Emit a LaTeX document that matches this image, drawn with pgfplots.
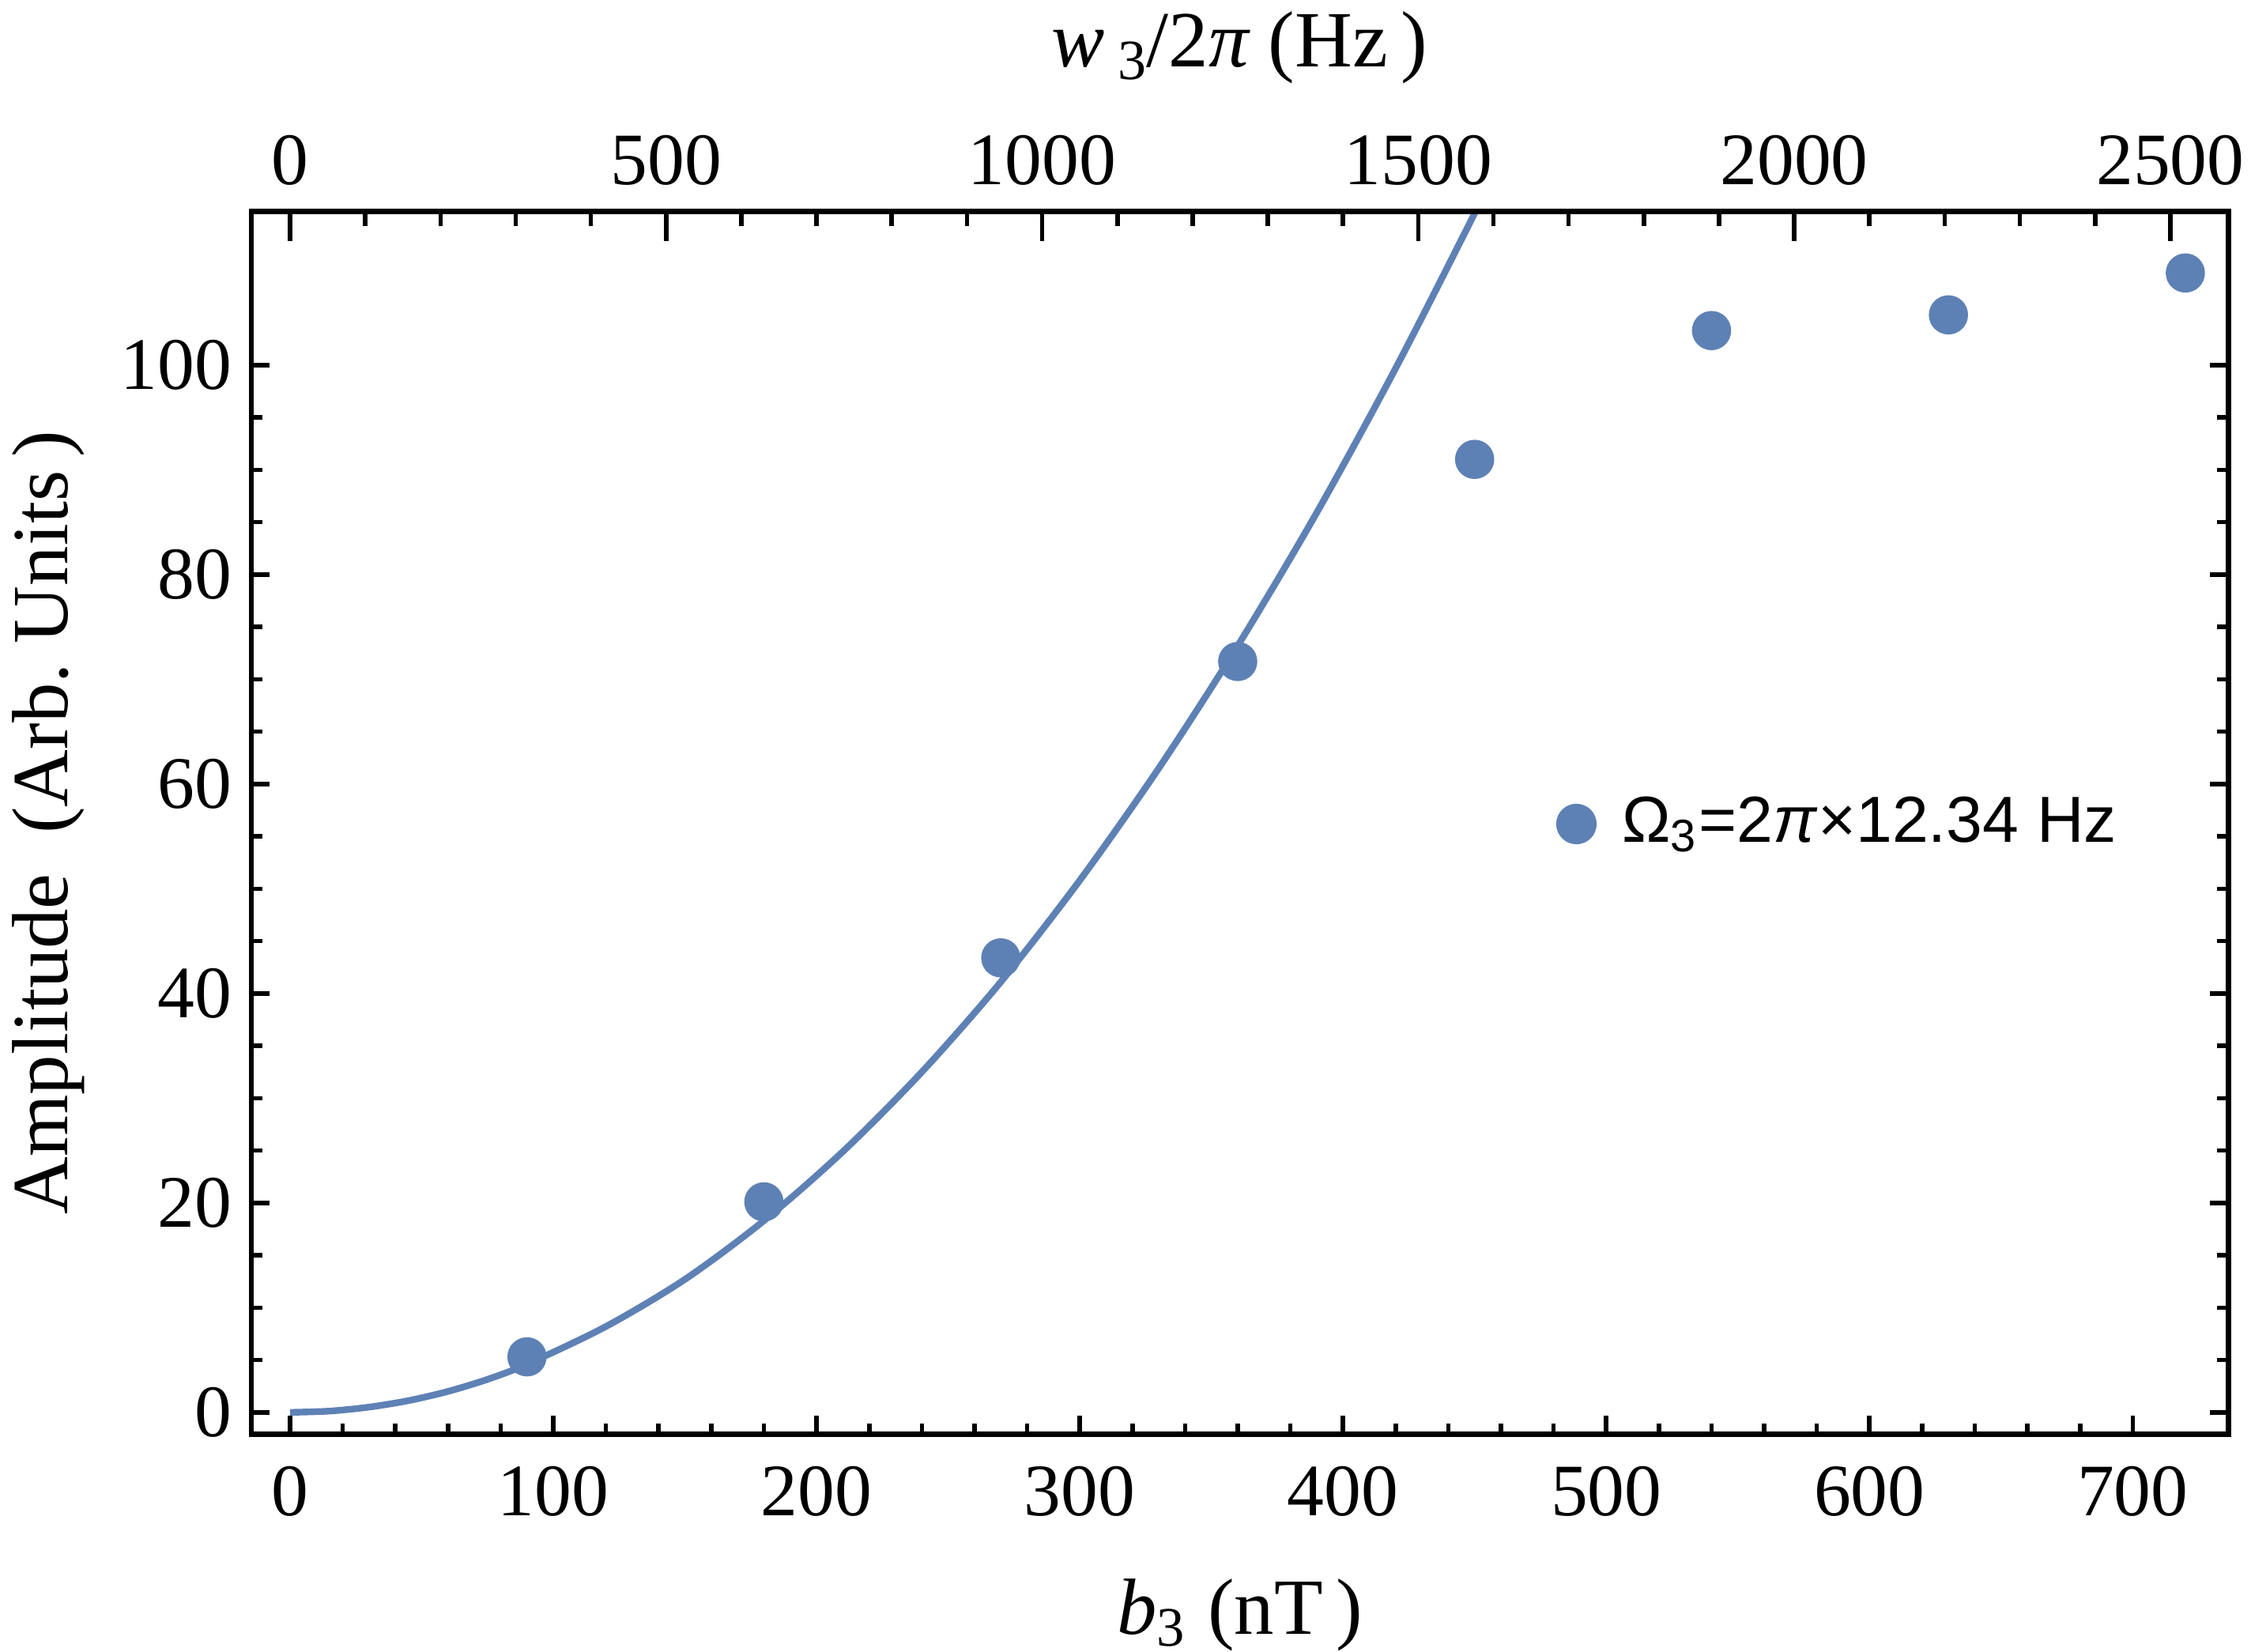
\documentclass[border=0pt]{standalone}
\usepackage{fontspec}
\setmainfont{Liberation Serif}
\newfontfamily\legfont{Liberation Sans}
\usepackage{pgfplots}
\pgfplotsset{compat=1.18}
\definecolor{mblue}{RGB}{94,129,181}

\begin{document}
\begin{tikzpicture}
\pgfplotsset{
 common/.style={
  scale only axis, width=312.6pt, height=193.4pt,
  xmin=-14.7, xmax=736.3, ymin=-2.1, ymax=114.7,
  axis line style={line width=0.85pt},
  every tick/.style={black, line width=0.7pt},
  tick align=inside,
  /pgf/number format/assume math mode=true,
  /pgf/number format/1000 sep={},
  tick label style={font=\fontsize{11.7}{14}\selectfont},
  label style={font=\fontsize{12.6}{15}\selectfont},
 }
}
\begin{axis}[common, name=ax,
  xtick={0,100,...,700}, minor x tick num=4,
  ytick={0,20,...,100}, minor y tick num=3,
  xtick pos=left, ytick pos=both, yticklabel pos=left,
  major tick length=2.9pt, minor tick length=1.75pt,
  xticklabel style={yshift=-1.6pt},
  yticklabel style={xshift=0.4pt},
  xlabel={{\itshape b}\textsubscript{3}\ (nT\,)},
  ylabel={Amplitude\ \ (Arb.\ Units\,)},
  xlabel style={at={(axis description cs:0.5,-0.1637)}, anchor=base},
  ylabel style={at={(axis description cs:-0.0931,0.5)}, anchor=base},
  legend style={draw=none, fill=none, inner sep=0pt, at={(0.6594,0.499)}, anchor=west,
    font=\legfont\fontsize{10.3}{12}\selectfont},
  legend cell align=left,
]
\addplot[mblue, line width=1.05pt, smooth, forget plot] coordinates {
(0,0) (15,0.12) (30,0.5) (45,1.12) (60,2.0) (75,3.15) (90,4.6) (120,8.2)
(150,12.7) (180,18.3) (210,24.9) (240,32.5) (270,41.1) (300,50.8) (330,61.5)
(360,73.2) (390,85.9) (420,99.7) (450,114.5) (460,119.8)
};
\addplot[only marks, mark=*, mark size=2.9pt, color=mblue,
  legend image code/.code={\fill[mblue] (3pt,0pt) circle (3pt); \path (8pt,0pt);}] coordinates {
(90,5.3) (180,20.1) (270,43.4) (360,71.7) (450,91.0) (540,103.3) (630,104.8) (720,108.8)
};
\addlegendentry{Ω\textsubscript{3}=2\textit{π}×12.34 Hz}
\end{axis}
\begin{axis}[common,
  xmin=-51.45, xmax=2577.05,
  xtick={0,500,...,2500}, minor x tick num=4,
  xtick pos=right, xticklabel pos=right,
  hide y axis, scaled x ticks=false,
  major tick length=4.75pt, minor tick length=2.4pt,
  xticklabel style={yshift=0.6pt},
  xlabel={{\itshape w}\,\raisebox{-0.35ex}{\fontsize{9}{10}\selectfont 3}/2{\itshape π}\ (Hz\,)},
  xlabel style={at={(axis description cs:0.5,1.1179)}, anchor=base},
]
\addplot[draw=none] coordinates {(0,0)};
\end{axis}
\pgfresetboundingbox
\path ([xshift=-39.75pt,yshift=-34.4pt]ax.south west) rectangle ([xshift=3.6pt,yshift=33.4pt]ax.north east);
\end{tikzpicture}
\end{document}
